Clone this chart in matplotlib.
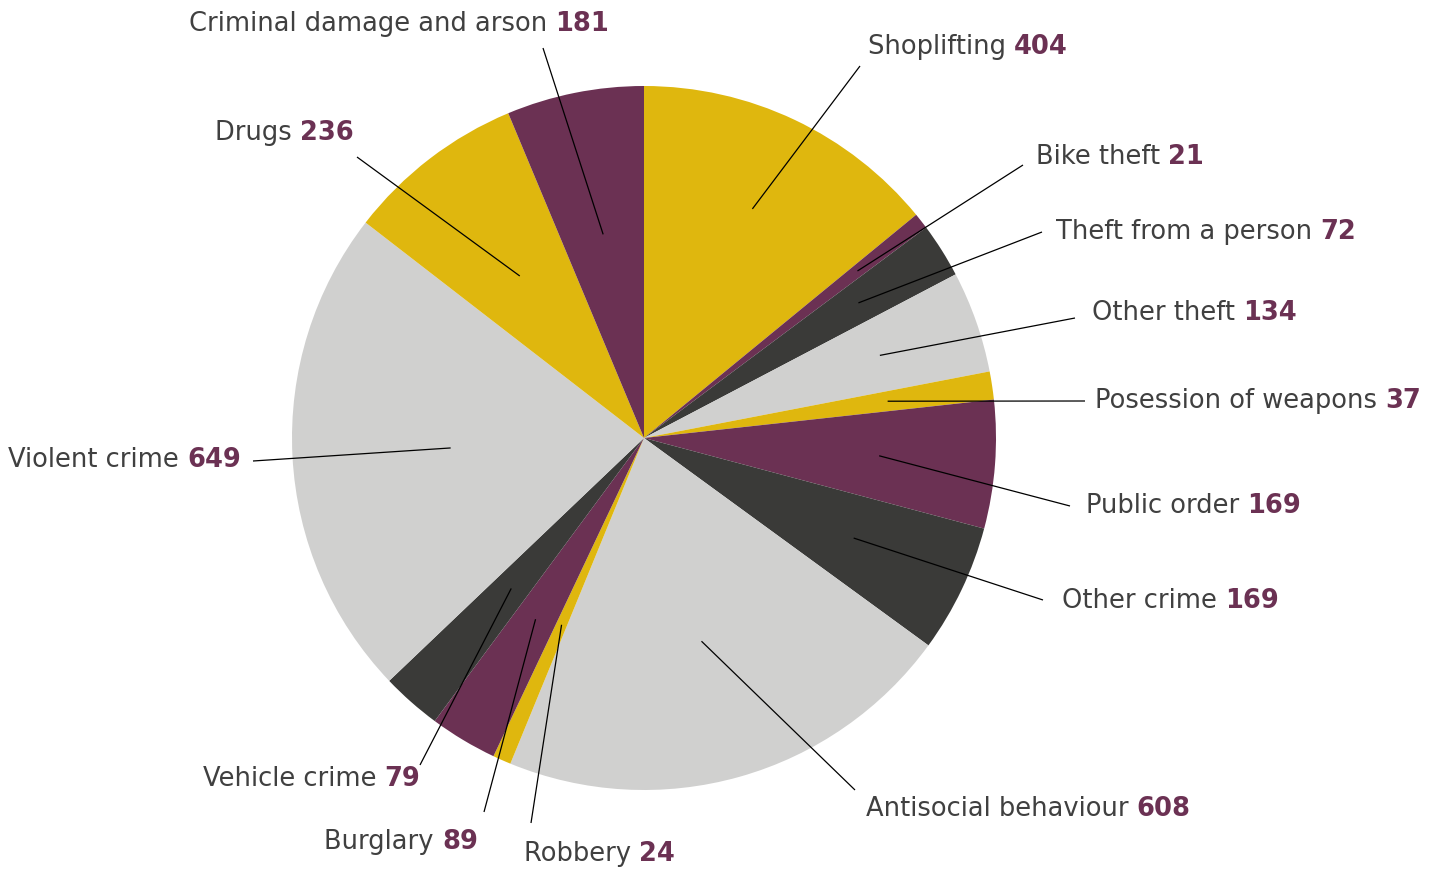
"""
Recorded crime by category, drawn as a pie with leader-line labels.
"""

import numpy as np
import matplotlib
matplotlib.use("Agg")
import matplotlib.pyplot as plt

# crime categories, clockwise from 12 o'clock
categories = [
    "Shoplifting", "Bike theft", "Theft from a person", "Other theft",
    "Posession of weapons", "Public order", "Other crime",
    "Antisocial behaviour", "Robbery", "Burglary", "Vehicle crime",
    "Violent crime", "Drugs", "Criminal damage and arson",
]
counts = [404, 21, 72, 134, 37, 169, 169, 608, 24, 89, 79, 649, 236, 181]

GOLD = "#DFB70E"
MAROON = "#6B3153"
DARK = "#3A3A38"
LIGHT = "#D0D0CF"
TEXT = "#404040"
palette = [GOLD, MAROON, DARK, LIGHT]

W, H = 1446, 873
CX, CY, R = 644, H - 438, 352

# label layout in pixel coords (y down): line end, text anchor, alignment,
# and how far into the slice the leader line starts
label_layout = [
    ((860, 66), (868, 47), "left", 0.72),
    ((1023, 165), (1036, 157), "left", 0.77),
    ((1042, 232), (1056, 232), "left", 0.72),
    ((1075, 318), (1092, 313), "left", 0.71),
    ((1085, 401), (1095, 401), "left", 0.70),
    ((1070, 506), (1086, 506), "left", 0.67),
    ((1043, 600), (1062, 601), "left", 0.66),
    ((855, 790), (866, 809), "left", 0.60),
    ((531, 823), (524, 854), "left", 0.58),
    ((484, 812), (478, 842), "right", 0.60),
    ((420, 765), (420, 779), "right", 0.57),
    ((253, 461), (241, 460), "right", 0.55),
    ((357, 157), (354, 133), "right", 0.58),
    ((543, 48), (609, 24), "right", 0.59),
]

plt.rcParams["font.family"] = ["DejaVu Sans"]
FS = 18.5

fig = plt.figure(figsize=(W / 100, H / 100), dpi=100)
ax = fig.add_axes([0, 0, 1, 1])

colors = [palette[i % 4] for i in range(len(counts))]
wedges, _ = ax.pie(counts, colors=colors, startangle=90, counterclock=False,
                   center=(CX, CY), radius=R, wedgeprops=dict(linewidth=0))
ax.set_xlim(0, W)
ax.set_ylim(0, H)
ax.set_aspect("equal")
ax.axis("off")

renderer = fig.canvas.get_renderer()

for w, name, val, (end, anchor, ha, frac) in zip(wedges, categories, counts, label_layout):
    mid = np.deg2rad((w.theta1 + w.theta2) / 2)
    x0 = CX + frac * R * np.cos(mid)
    y0 = CY + frac * R * np.sin(mid)
    ax.plot([x0, end[0]], [y0, H - end[1]], color="black", lw=0.9,
            solid_capstyle="butt")

    tx, ty = anchor[0], H - anchor[1]
    if ha == "left":
        t1 = ax.text(tx, ty, name + " ", ha="left", va="center",
                     fontsize=FS, color=TEXT)
        bb = t1.get_window_extent(renderer)
        ax.text(bb.x1, ty, str(val), ha="left", va="center",
                fontsize=FS, color=MAROON, fontweight="bold")
    else:
        t2 = ax.text(tx, ty, str(val), ha="right", va="center",
                     fontsize=FS, color=MAROON, fontweight="bold")
        bb = t2.get_window_extent(renderer)
        ax.text(bb.x0, ty, name + " ", ha="right", va="center",
                fontsize=FS, color=TEXT)

fig.savefig("out.png", dpi=100)
